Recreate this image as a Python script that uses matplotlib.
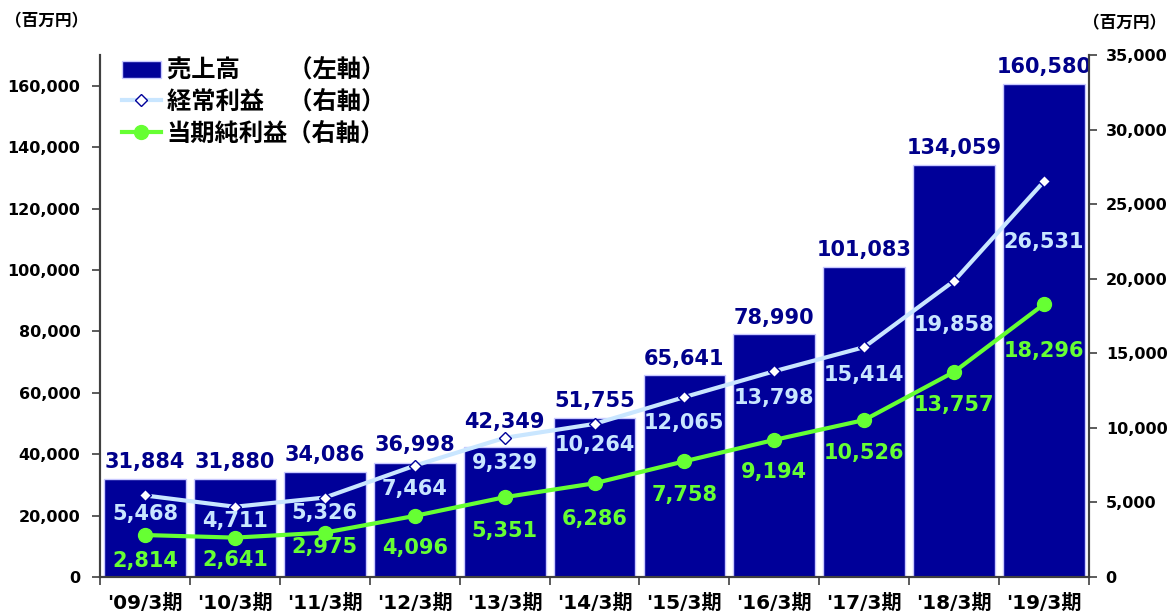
import numpy as np
import matplotlib
matplotlib.use('Agg')
import matplotlib.pyplot as plt
from matplotlib.ticker import FuncFormatter
from matplotlib.patches import Patch
from matplotlib.lines import Line2D

plt.rcParams['font.family'] = ['DejaVu Sans', 'Noto Sans CJK JP']

periods = ["'09/3期", "'10/3期", "'11/3期", "'12/3期", "'13/3期", "'14/3期",
           "'15/3期", "'16/3期", "'17/3期", "'18/3期", "'19/3期"]
sales = [31884, 31880, 34086, 36998, 42349, 51755, 65641, 78990, 101083, 134059, 160580]
ordinary = [5468, 4711, 5326, 7464, 9329, 10264, 12065, 13798, 15414, 19858, 26531]
net = [2814, 2641, 2975, 4096, 5351, 6286, 7758, 9194, 10526, 13757, 18296]

# label offsets (points)
sales_dy = [5, 5, 5, 6, 11, 5, 5, 5, 5, 5, 5]
ord_dy = [-13, -10, -11, -17, -18, -15, -19, -19, -20, -32, -44]
net_dy = [-19, -16, -10, -23, -24, -26, -24, -23, -24, -24, -34]

navy = '#000099'
light = '#C9E6FF'
green = '#66FF33'

fig = plt.figure(figsize=(11.68, 6.16), dpi=100)
ax = fig.add_axes([0.0856, 0.0633, 0.8468, 0.8474])
ax2 = ax.twinx()

x = np.arange(len(periods))
ax.bar(x, sales, width=0.91, color=navy, edgecolor='#C8C8FF', linewidth=1, zorder=2)
ax.set_xlim(-0.5, len(periods) - 0.5)
ax.set_ylim(0, 170000)
ax.set_yticks(np.arange(0, 160001, 20000))
ax.yaxis.set_major_formatter(FuncFormatter(lambda v, p: f'{int(v):,}'))
ax.set_xticks(x)
ax.set_xticklabels(periods, fontsize=14.5, fontweight='bold')
ax.tick_params(axis='x', length=0, pad=12)
ax.set_xticks(np.arange(-0.5, len(periods), 1), minor=True)
ax.tick_params(axis='x', which='minor', length=6, width=1.2, color='#404040')
ax.tick_params(axis='y', length=6, width=1.2, color='#404040', labelsize=11.5, pad=8)
for t in ax.get_yticklabels():
    t.set_fontweight('bold')

ax2.set_ylim(0, 35000)
ax2.set_yticks(np.arange(0, 35001, 5000))
ax2.yaxis.set_major_formatter(FuncFormatter(lambda v, p: f'{int(v):,}'))
ax2.tick_params(axis='y', length=6, width=1.2, color='#404040', labelsize=11.5, pad=6)
for t in ax2.get_yticklabels():
    t.set_fontweight('bold')

for a in (ax, ax2):
    a.spines['top'].set_visible(False)
    for s in ('left', 'right', 'bottom'):
        a.spines[s].set_color('#404040')
        a.spines[s].set_linewidth(1.5)

ax2.plot(x, ordinary, color=light, linewidth=3, marker='D', markersize=6,
         markerfacecolor='white', markeredgecolor=navy, markeredgewidth=1,
         zorder=3)
ax2.plot(x, net, color=green, linewidth=3, marker='o', markersize=10,
         markerfacecolor=green, markeredgecolor=green, zorder=3)

for i, v in enumerate(sales):
    ax.annotate(f'{v:,}', (x[i], v), xytext=(0, sales_dy[i]), textcoords='offset points',
                ha='center', va='bottom', fontsize=15, fontweight='bold',
                color='#00008B', zorder=5)
for i, v in enumerate(ordinary):
    ax2.annotate(f'{v:,}', (x[i], v), xytext=(0, ord_dy[i]), textcoords='offset points',
                 ha='center', va='center', fontsize=15, fontweight='bold',
                 color=light, zorder=5)
for i, v in enumerate(net):
    ax2.annotate(f'{v:,}', (x[i], v), xytext=(0, net_dy[i]), textcoords='offset points',
                 ha='center', va='center', fontsize=15, fontweight='bold',
                 color=green, zorder=5)

handles = [
    Patch(facecolor=navy, edgecolor='#C8C8FF'),
    Line2D([], [], color=light, linewidth=3, marker='D', markersize=6,
           markerfacecolor='white', markeredgecolor=navy),
    Line2D([], [], color=green, linewidth=3, marker='o', markersize=10),
]
labels = ['売上高\u3000\u3000（左軸）', '経常利益\u3000（右軸）', '当期純利益（右軸）']
leg = ax2.legend(handles, labels, loc='upper left', bbox_to_anchor=(0.0, 1.035),
                 frameon=False, handlelength=1.6, handletextpad=0.25,
                 labelspacing=0.3, prop={'family': 'Noto Sans CJK JP',
                                         'weight': 'bold', 'size': 17.5})

fig.text(0.004, 0.965, '（百万円）', fontsize=12, fontweight='bold',
         family='Noto Sans CJK JP', ha='left', va='center')
fig.text(0.998, 0.962, '（百万円）', fontsize=12, fontweight='bold',
         family='Noto Sans CJK JP', ha='right', va='center')

plt.savefig('out.png', dpi=100)
